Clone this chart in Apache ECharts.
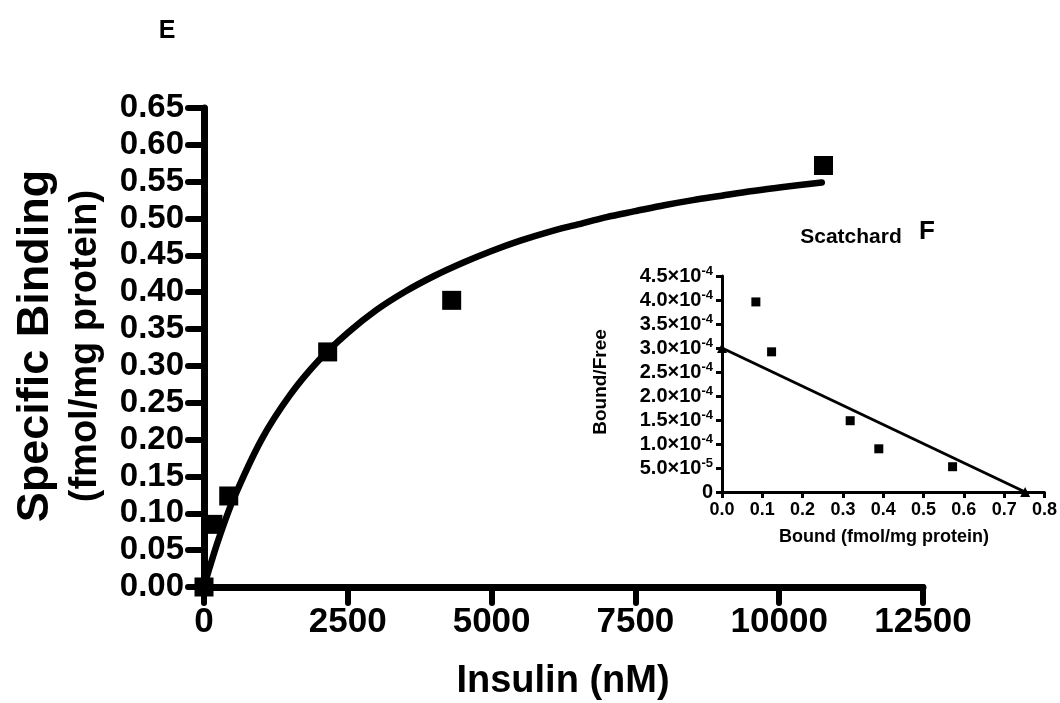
<!DOCTYPE html>
<html>
<head>
<meta charset="utf-8">
<script src="https://cdn.jsdelivr.net/npm/echarts@6/dist/echarts.min.js"></script>
<style>
html,body{margin:0;padding:0;background:#fff;}
#chart{width:1060px;height:703px;}
</style>
</head>
<body>
<div id="chart"></div>
<script>
// ---- Data ----
// Main panel E: specific binding vs insulin
const insulinNM = [0, 155, 430, 2150, 4306, 10770];
const specificBinding = [0, 0.085, 0.1235, 0.319, 0.389, 0.572];
// Fitted saturation curve
const fitX = [0, 100, 250, 500, 1000, 1500, 2000, 2500, 3000, 3500, 4000, 4500, 5000, 5500, 6000, 6500, 7000, 7500, 8000, 8500, 9000, 9500, 10000, 10740];
const fitY = [0, 0.027, 0.064, 0.117, 0.200, 0.261, 0.308, 0.345, 0.376, 0.401, 0.422, 0.440, 0.456, 0.470, 0.482, 0.492, 0.502, 0.510, 0.518, 0.525, 0.531, 0.537, 0.542, 0.549];
const mainYTicks = ['0.00','0.05','0.10','0.15','0.20','0.25','0.30','0.35','0.40','0.45','0.50','0.55','0.60','0.65'];
const mainXTicks = ['0','2500','5000','7500','10000','12500'];

// Inset panel F: Scatchard plot
const bound = [0.084, 0.123, 0.318, 0.389, 0.572];
const boundFree = [3.96e-4, 2.92e-4, 1.485e-4, 0.90e-4, 0.527e-4];
const scatchardLineX = [0, 0.752];
const scatchardLineY = [3.0e-4, 0];
const insetYTicks = ['0', '5.0×10^-5', '1.0×10^-4', '1.5×10^-4', '2.0×10^-4', '2.5×10^-4', '3.0×10^-4', '3.5×10^-4', '4.0×10^-4', '4.5×10^-4'];
const insetXTicks = ['0.0','0.1','0.2','0.3','0.4','0.5','0.6','0.7','0.8'];

const FONT = '"Liberation Sans", Arial, Helvetica, sans-serif';
const chart = echarts.init(document.getElementById('chart'), null, {renderer: 'canvas'});

function insetYLabel(v) {
  const idx = Math.round(v / 0.5e-4);
  const s = insetYTicks[idx];
  if (s === undefined) return '';
  if (s.indexOf('^') < 0) return '{b|' + s + '}';
  const parts = s.split('^');
  return '{b|' + parts[0] + '}{s|' + parts[1] + '}';
}

const option = {
  backgroundColor: '#ffffff',
  animation: false,
  grid: [
    {left: 204, top: 108, width: 719, height: 479, containLabel: false},
    {left: 722, top: 276, width: 324, height: 216, containLabel: false}
  ],
  xAxis: [
    {
      gridIndex: 0, type: 'value', min: 0, max: 12500, interval: 2500,
      splitLine: {show: false},
      axisLine: {lineStyle: {color: '#000', width: 7, cap: 'round'}},
      axisTick: {length: 16, lineStyle: {color: '#000', width: 6, cap: 'round'}},
      axisLabel: {
        color: '#000', fontSize: 35, fontWeight: 'bold', fontFamily: FONT, margin: 18,
        formatter: function (v) { return mainXTicks[Math.round(v / 2500)]; }
      }
    },
    {
      gridIndex: 1, type: 'value', min: 0, max: 0.8, interval: 0.1,
      splitLine: {show: false},
      axisLine: {lineStyle: {color: '#000', width: 3}},
      axisTick: {length: 6, lineStyle: {color: '#000', width: 3}},
      axisLabel: {
        color: '#000', fontSize: 18, fontWeight: 'bold', fontFamily: FONT, margin: 9,
        formatter: function (v) { return insetXTicks[Math.round(v / 0.1)]; }
      }
    }
  ],
  yAxis: [
    {
      gridIndex: 0, type: 'value', min: 0, max: 0.65, interval: 0.05,
      splitLine: {show: false},
      axisLine: {lineStyle: {color: '#000', width: 7, cap: 'round'}},
      axisTick: {length: 16, lineStyle: {color: '#000', width: 6, cap: 'round'}},
      axisLabel: {
        color: '#000', fontSize: 33, fontWeight: 'bold', fontFamily: FONT, margin: 20,
        formatter: function (v) { return mainYTicks[Math.round(v / 0.05)]; }
      }
    },
    {
      gridIndex: 1, type: 'value', min: 0, max: 4.5e-4, interval: 0.5e-4,
      splitLine: {show: false},
      axisLine: {lineStyle: {color: '#000', width: 3}},
      axisTick: {length: 6, lineStyle: {color: '#000', width: 3}},
      axisLabel: {
        color: '#000', margin: 9,
        formatter: insetYLabel,
        rich: {
          b: {fontSize: 20, fontWeight: 'bold', fontFamily: FONT, color: '#000', lineHeight: 22},
          s: {fontSize: 13, fontWeight: 'bold', fontFamily: FONT, color: '#000', lineHeight: 13, verticalAlign: 'top'}
        }
      }
    }
  ],
  series: [
    {
      type: 'line', xAxisIndex: 0, yAxisIndex: 0,
      data: fitX.map((x, i) => [x, fitY[i]]),
      smooth: 0.3, showSymbol: false, symbol: 'none',
      lineStyle: {color: '#000', width: 6.5, cap: 'round', join: 'round'},
      z: 3
    },
    {
      type: 'scatter', xAxisIndex: 0, yAxisIndex: 0,
      data: insulinNM.map((x, i) => [x, specificBinding[i]]),
      symbol: 'rect', symbolSize: 19, clip: false,
      itemStyle: {color: '#000', opacity: 1},
      z: 4
    },
    {
      type: 'line', xAxisIndex: 1, yAxisIndex: 1,
      data: scatchardLineX.map((x, i) => [x, scatchardLineY[i]]),
      symbol: 'triangle', symbolSize: 10, showSymbol: true, clip: false,
      itemStyle: {color: '#000', opacity: 1},
      lineStyle: {color: '#000', width: 3},
      z: 3
    },
    {
      type: 'scatter', xAxisIndex: 1, yAxisIndex: 1,
      data: bound.map((x, i) => [x, boundFree[i]]),
      symbol: 'rect', symbolSize: 9, clip: false,
      itemStyle: {color: '#000', opacity: 1},
      z: 4
    }
  ],
  graphic: [
    {type: 'text', x: 167, y: 31, style: {text: 'E', font: 'bold 25px ' + FONT, fill: '#000', textAlign: 'center', textVerticalAlign: 'middle'}},
    {type: 'text', x: 36, y: 346, rotation: Math.PI / 2, style: {text: 'Specific Binding', font: 'bold 45px ' + FONT, fill: '#000', textAlign: 'center', textVerticalAlign: 'middle'}},
    {type: 'text', x: 86, y: 346, rotation: Math.PI / 2, style: {text: '(fmol/mg protein)', font: 'bold 38px ' + FONT, fill: '#000', textAlign: 'center', textVerticalAlign: 'middle'}},
    {type: 'text', x: 563, y: 682, style: {text: 'Insulin (nM)', font: 'bold 38px ' + FONT, fill: '#000', textAlign: 'center', textVerticalAlign: 'middle'}},
    {type: 'text', x: 851, y: 237, style: {text: 'Scatchard', font: 'bold 21px ' + FONT, fill: '#000', textAlign: 'center', textVerticalAlign: 'middle'}},
    {type: 'text', x: 927, y: 232, style: {text: 'F', font: 'bold 26px ' + FONT, fill: '#000', textAlign: 'center', textVerticalAlign: 'middle'}},
    {type: 'text', x: 601, y: 382, rotation: Math.PI / 2, style: {text: 'Bound/Free', font: 'bold 19px ' + FONT, fill: '#000', textAlign: 'center', textVerticalAlign: 'middle'}},
    {type: 'text', x: 884, y: 537, style: {text: 'Bound (fmol/mg protein)', font: 'bold 18px ' + FONT, fill: '#000', textAlign: 'center', textVerticalAlign: 'middle'}}
  ]
};
chart.setOption(option);
</script>
</body>
</html>
